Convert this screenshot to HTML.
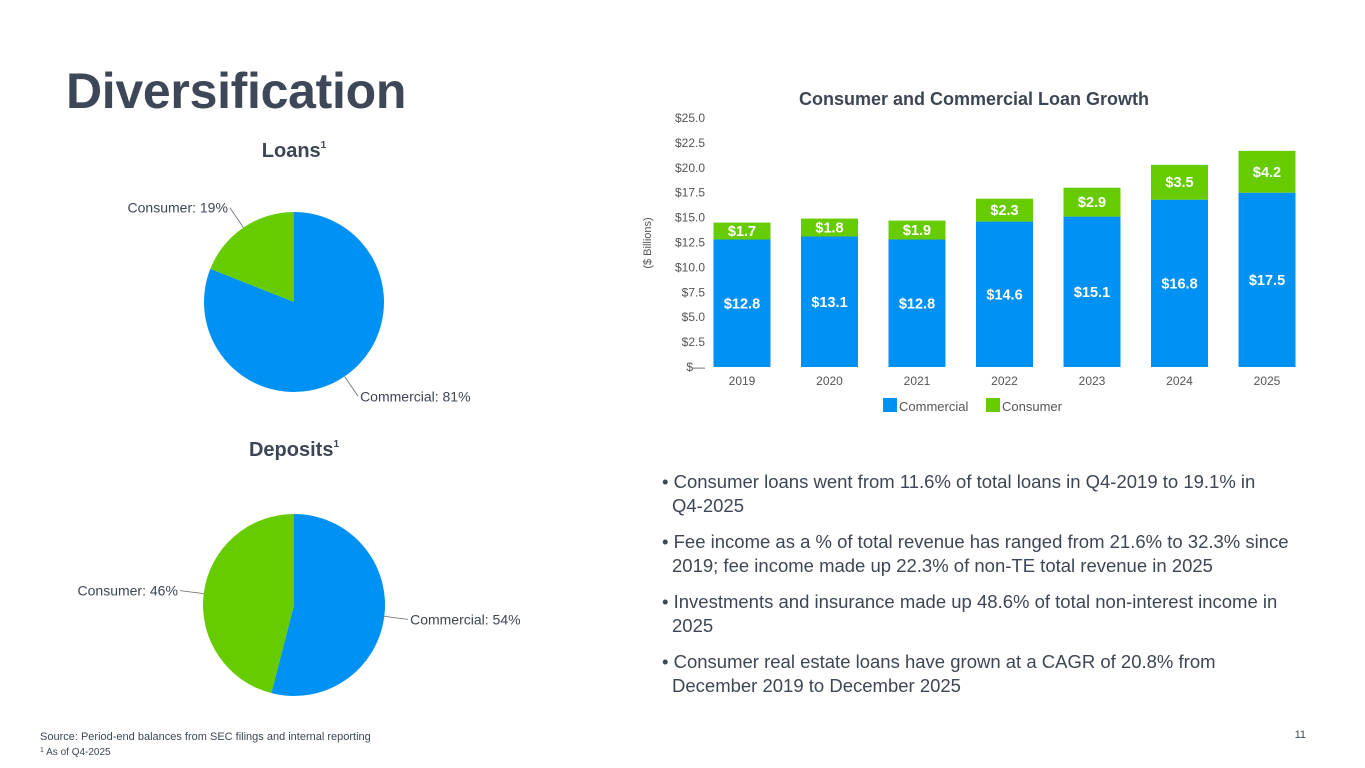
<!DOCTYPE html>
<html><head><meta charset="utf-8"><style>
body{margin:0;width:1365px;height:768px;background:#fff;font-family:"Liberation Sans",sans-serif;color:#3d4654;overflow:hidden;position:relative}
.abs{position:absolute}
h1{position:absolute;left:66px;top:62px;margin:0;font-size:50px;font-weight:bold;color:#3d4757;letter-spacing:-0.3px}
ul{position:absolute;left:662px;top:470px;margin:0;padding:0;list-style:none;font-size:18.5px;line-height:24px;color:#3d4654;width:628px}
li{margin-bottom:12px;padding-left:10px;text-indent:-10px}
</style></head><body>
<h1>Diversification</h1>
<svg class="abs" style="left:0;top:0" width="1365" height="768" id="svg">
<text x="294" y="157" text-anchor="middle" font-size="20" font-weight="bold" fill="#3d4654">Loans<tspan font-size="10" dy="-9">1</tspan></text>
<text x="294" y="456" text-anchor="middle" font-size="20" font-weight="bold" fill="#3d4654">Deposits<tspan font-size="10" dy="-9">1</tspan></text>
<text x="974" y="105" text-anchor="middle" font-size="18" font-weight="bold" fill="#3d4654">Consumer and Commercial Loan Growth</text>
<text transform="translate(651,243) rotate(-90)" text-anchor="middle" font-size="11" fill="#555">($ Billions)</text>
<g id="pies"></g><g id="bars"></g>
<rect x="883" y="398" width="14" height="14" fill="#0091f5"/>
<text x="899" y="411" font-size="13" fill="#555">Commercial</text>
<rect x="986" y="398" width="14" height="14" fill="#66cc00"/>
<text x="1002" y="411" font-size="13" fill="#555">Consumer</text>
<text x="40" y="740" font-size="11" fill="#3d4654">Source: Period-end balances from SEC filings and internal reporting</text>
<text x="40" y="755" font-size="10" fill="#3d4654"><tspan font-size="7" dy="-3">1</tspan><tspan dy="3"> As of Q4-2025</tspan></text>
<text x="1306" y="738" font-size="11" fill="#3d4654" text-anchor="end">11</text>
</svg>
<ul>
<li>• Consumer loans went from 11.6% of total loans in Q4-2019 to 19.1% in Q4-2025</li>
<li>• Fee income as a % of total revenue has ranged from 21.6% to 32.3% since 2019; fee income made up 22.3% of non-TE total revenue in 2025</li>
<li>• Investments and insurance made up 48.6% of total non-interest income in 2025</li>
<li>• Consumer real estate loans have grown at a CAGR of 20.8% from December 2019 to December 2025</li>
</ul>
<script>
const years=["2019","2020","2021","2022","2023","2024","2025"];
const commercial=[12.8,13.1,12.8,14.6,15.1,16.8,17.5];
const consumer=[1.7,1.8,1.9,2.3,2.9,3.5,4.2];
const yTicks=[0,2.5,5,7.5,10,12.5,15,17.5,20,22.5,25];
const yTickLabels=["$—","$2.5","$5.0","$7.5","$10.0","$12.5","$15.0","$17.5","$20.0","$22.5","$25.0"];
const loansShare=[81,19];
const depositsShare=[54,46];
const NS="http://www.w3.org/2000/svg";
const BLUE="#0091f5",GREEN="#66cc00";
function mk(tag,attrs,parent){const e=document.createElementNS(NS,tag);for(const k in attrs)e.setAttribute(k,attrs[k]);parent.appendChild(e);return e;}
const y=v=>367-v*(249/25);
const x=i=>742+i*87.5;
const bars=document.getElementById('bars');
yTicks.forEach((t,i)=>{const tx=mk('text',{x:705,y:y(t)+4,'text-anchor':'end','font-size':12,fill:'#555'},bars);tx.textContent=yTickLabels[i];

});
years.forEach((yr,i)=>{
 const w=57,cx=x(i);
 const r1=mk('rect',{x:cx-w/2,y:y(commercial[i]),width:w,height:y(0)-y(commercial[i]),fill:BLUE},bars);
 
 
 const top=commercial[i]+consumer[i];
 const r2=mk('rect',{x:cx-w/2,y:y(top),width:w,height:y(commercial[i])-y(top),fill:GREEN},bars);
 
 
 const l1=mk('text',{x:cx,y:(y(0)+y(commercial[i]))/2+5,'text-anchor':'middle','font-size':14.5,'font-weight':'bold',fill:'#fff'},bars);l1.textContent='$'+commercial[i].toFixed(1);
 
 
 const l2=mk('text',{x:cx,y:(y(commercial[i])+y(top))/2+5,'text-anchor':'middle','font-size':14.5,'font-weight':'bold',fill:'#fff'},bars);l2.textContent='$'+consumer[i].toFixed(1);
 
 
 const xl=mk('text',{x:cx,y:385,'text-anchor':'middle','font-size':12,fill:'#555'},bars);xl.textContent=yr;
 
 
});
const pies=document.getElementById('pies');
function pie(cx,cy,r,vals,names,labels,pre){
 let a=0;const tot=vals.reduce((s,v)=>s+v,0);const cols=[BLUE,GREEN];
 vals.forEach((v,i)=>{
  const a0=a,a1=a+v/tot*2*Math.PI;a=a1;
  const p=t=>[cx+r*Math.sin(t),cy-r*Math.cos(t)];
  const [x0,y0]=p(a0),[x1,y1]=p(a1);
  const large=(a1-a0)>Math.PI?1:0;
  const s=mk('path',{d:`M${cx},${cy}L${x0},${y0}A${r},${r} 0 ${large} 1 ${x1},${y1}Z`,fill:cols[i]},pies);
  
  
  const mid=(a0+a1)/2;const [ex,ey]=p(mid);const rx=cx+(r+24)*Math.sin(mid),ry=cy-(r+24)*Math.cos(mid);
  const right=Math.sin(mid)>0;
  mk('line',{x1:ex,y1:ey,x2:rx,y2:ry,stroke:'#666','stroke-width':0.8},pies);
  const t=mk('text',{x:rx+(right?2:-2),y:ry+5,'text-anchor':right?'start':'end','font-size':14,fill:'#3d4654'},pies);
  t.textContent=labels[i]+': '+v+'%';
  
  
 });
}
pie(294,302,90,loansShare,['commercial','consumer'],['Commercial','Consumer'],'loans');
pie(294,605,91,depositsShare,['commercial','consumer'],['Commercial','Consumer'],'deposits');
</script>
</body></html>
